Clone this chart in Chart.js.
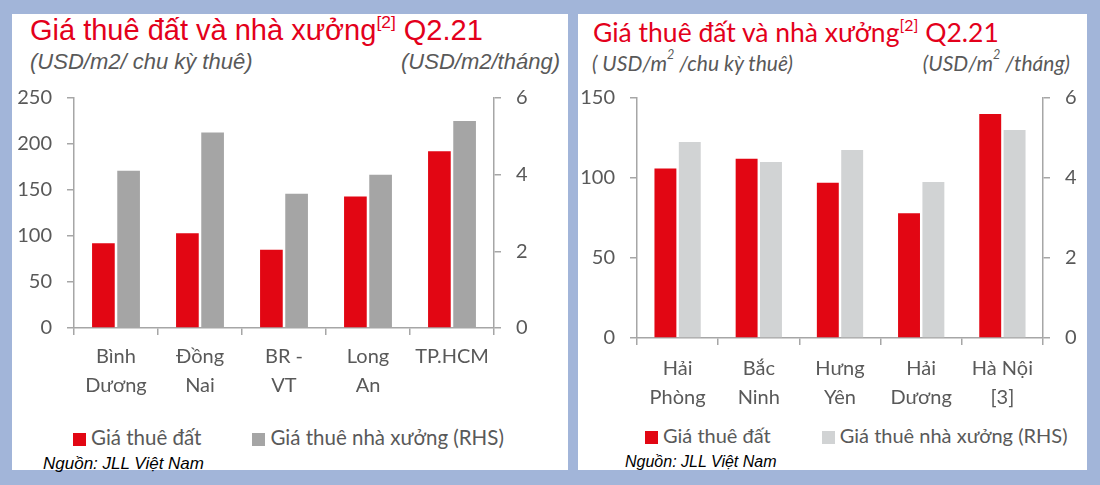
<!DOCTYPE html>
<html>
<head>
<meta charset="utf-8">
<script src="https://cdn.jsdelivr.net/npm/chart.js@4.4.0/dist/chart.umd.min.js"></script>
<style>
  body { margin: 0; width: 1100px; height: 485px; background: #a2b5d9; position: relative; overflow: hidden; }
  .panel { position: absolute; top: 14px; height: 456px; background: #fff; }
  #p1 { left: 12px; width: 556px; }
  #p2 { left: 578px; width: 509px; }
  .title { position: absolute; white-space: nowrap; color: #e3001b; }
  .title sup { font-size: 60%; vertical-align: 0; position: relative; top: -0.7em; }
  .unit { position: absolute; white-space: nowrap; color: #595959; font-style: italic; }
  .unit sup { font-size: 60%; position: relative; top: -0.2em; vertical-align: top; }
  .src { position: absolute; white-space: nowrap; color: #000; font-style: italic; font-family: 'Liberation Sans', Arial, sans-serif; }
  .legend { position: absolute; display: flex; gap: 51px; white-space: nowrap; color: #595959; font-family: Lato, sans-serif; line-height: 24px; }
  .legend span.box { display: inline-block; width: 13px; height: 13px; margin-right: 5px; vertical-align: -1px; }
  canvas { position: absolute; }
</style>
</head>
<body>

<div class="panel" id="p1">
  <div class="title" style="left:18px;top:0px;font:29px 'Liberation Sans',Arial,sans-serif;">Giá thuê đất và nhà xưởng<sup>[2]</sup> Q2.21</div>
  <div class="unit" style="left:18px;top:35px;font:italic 22px 'Liberation Sans',Arial,sans-serif;">(USD/m2/ chu kỳ thuê)</div>
  <div class="unit" style="right:8px;top:35px;font:italic 22px 'Liberation Sans',Arial,sans-serif;">(USD/m2/tháng)</div>
  <div style="position:absolute;left:0;top:57px;width:556px;height:339px;"><canvas id="south"></canvas></div>
  <div class="legend" id="south-legend" style="left:61px;top:411px;font-size:20.5px;"></div>
  <div class="src" style="left:31px;top:440px;font-size:17px;">Nguồn: JLL Việt Nam</div>
</div>

<div class="panel" id="p2">
  <div class="title" style="left:15px;top:2px;font:26.5px Lato,sans-serif;">Giá thuê đất và nhà xưởng<sup>[2]</sup> Q2.21</div>
  <div class="unit" style="left:14px;top:36px;font:italic 21px Lato,sans-serif;">( USD/m<sup>2</sup> /chu kỳ thuê)</div>
  <div class="unit" style="right:17px;top:36px;font:italic 21px Lato,sans-serif;">(USD/m<sup>2</sup> /tháng)</div>
  <div style="position:absolute;left:0;top:57px;width:509px;height:340px;"><canvas id="north"></canvas></div>
  <div class="legend" id="north-legend" style="left:67px;top:409px;font-size:20px;"></div>
  <div class="src" style="left:47px;top:439px;font-size:16px;">Nguồn: JLL Việt Nam</div>
</div>

<script>
// Southern provinces
const southCategories = [['Bình', 'Dương'], ['Đồng', 'Nai'], ['BR -', 'VT'], ['Long', 'An'], ['TP.HCM']];
const southLandRent = [92, 103, 85, 143, 192];
const southFactoryRent = [4.1, 5.1, 3.5, 4.0, 5.4];
const southLandTicks = [0, 50, 100, 150, 200, 250];

// Northern provinces
const northCategories = [['Hải', 'Phòng'], ['Bắc', 'Ninh'], ['Hưng', 'Yên'], ['Hải', 'Dương'], ['Hà Nội', '[3]']];
const northLandRent = [106, 112, 97, 78, 140];
const northFactoryRent = [4.9, 4.4, 4.7, 3.9, 5.2];
const northLandTicks = [0, 50, 100, 150];

const factoryTicks = [0, 2, 4, 6];
const seriesNames = ['Giá thuê đất', 'Giá thuê nhà xưởng (RHS)'];

const axisColor = '#a6a6a6';
const textColor = '#595959';
const font = { family: 'Lato, sans-serif', size: 20 };

const createChart = (id, labels, land, factory, landTicks, factoryColor, sizes) => {
  const ctx = document.getElementById(id).getContext('2d');
  const yAxis = (position, ticks, width) => ({
    position: position,
    min: ticks[0],
    max: ticks[ticks.length - 1],
    afterBuildTicks: (scale) => { scale.ticks = ticks.map((v) => ({ value: v })); },
    afterFit: (scale) => { scale.width = width; },
    border: { display: true, color: axisColor, width: 1.5 },
    grid: { drawOnChartArea: false, color: axisColor, tickLength: 7, lineWidth: 1.5 },
    ticks: { color: textColor, font: font, padding: 15 },
  });

  return new Chart(ctx, {
    type: 'bar',
    data: {
      labels: labels,
      datasets: [
        { label: seriesNames[0], data: land, backgroundColor: '#e20613', yAxisID: 'y' },
        { label: seriesNames[1], data: factory, backgroundColor: factoryColor, yAxisID: 'y1' },
      ],
    },
    options: {
      responsive: true,
      maintainAspectRatio: false,
      animation: false,
      categoryPercentage: sizes.cat,
      barPercentage: 0.9,
      // top of the plot is set by the y tick labels (half label + padding)
      layout: { padding: 0 },
      plugins: {
        tooltip: { enabled: false },
        legend: { display: false },
      },
      scales: {
        x: {
          afterFit: (scale) => { scale.height = sizes.bottom; },
          border: { display: true, color: axisColor, width: 1.5 },
          grid: { drawOnChartArea: false, color: axisColor, tickLength: 7, lineWidth: 1.5 },
          ticks: { color: textColor, font: { family: 'Lato, sans-serif', size: 20, lineHeight: 1.45 }, padding: sizes.xPad, maxRotation: 0, autoSkip: false },
        },
        y: yAxis('left', landTicks, sizes.left),
        y1: yAxis('right', factoryTicks, sizes.right),
      },
    },
  });
};

// Legend built from the chart's own datasets
const buildLegend = (chart, id) => {
  const el = document.getElementById(id);
  chart.data.datasets.forEach((ds) => {
    const item = document.createElement('div');
    const box = document.createElement('span');
    box.className = 'box';
    box.style.background = ds.backgroundColor;
    item.appendChild(box);
    item.appendChild(document.createTextNode(ds.label));
    el.appendChild(item);
  });
};

const south = createChart('south', southCategories, southLandRent, southFactoryRent, southLandTicks, '#a5a5a5',
  { left: 62, right: 74, bottom: 82, cat: 0.6, xPad: 7 });
const north = createChart('north', northCategories, northLandRent, northFactoryRent, northLandTicks, '#d1d3d4',
  { left: 59, right: 44, bottom: 73, cat: 0.6, xPad: 9 });

buildLegend(south, 'south-legend');
buildLegend(north, 'north-legend');
</script>
</body>
</html>
